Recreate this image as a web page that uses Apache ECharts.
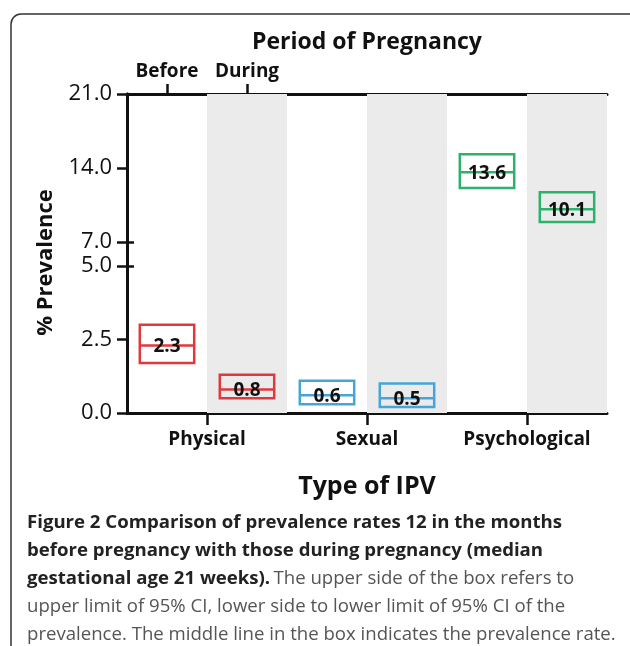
<!DOCTYPE html>
<html>
<head>
<meta charset="utf-8">
<script src="https://cdn.jsdelivr.net/npm/echarts@6/dist/echarts.min.js"></script>
<style>
html,body{margin:0;padding:0;background:#fff;}
#chart{width:630px;height:646px;}
</style>
</head>
<body>
<div id="chart"></div>
<script>
// ---- data ----
const categories = ['Physical', 'Sexual', 'Psychological'];
const periods = ['Before', 'During'];
const prevalence = [2.3, 0.8, 0.6, 0.5, 13.6, 10.1];
const ciLower = [1.7, 0.5, 0.3, 0.2, 12.1, 8.9];
const ciUpper = [3.0, 1.3, 1.1, 1.0, 15.3, 11.7];
const upperTicks = [7, 14, 21];
const lowerTicks = [0, 2.5, 5];

const categoryColors = ['#e0383c', '#45a5d8', '#2bb36c'];
const FONT = '"Open Sans", "Noto Sans", sans-serif';
const BOX_W = 0.68;

const upperData = [], lowerData = [];
prevalence.forEach((v, i) => {
  const row = [i + 0.5, ciLower[i], v, ciUpper[i], Math.floor(i / 2)];
  if (v > 5) upperData.push(row); else lowerData.push(row);
});
const bands = categories.map((c, k) => [{ xAxis: 2 * k + 1 }, { xAxis: 2 * k + 2 }]);

function renderBox(params, api) {
  const x = api.value(0), lo = api.value(1), mid = api.value(2), hi = api.value(3);
  const color = categoryColors[api.value(4)];
  const pLo = api.coord([x, lo]), pHi = api.coord([x, hi]), pMid = api.coord([x, mid]);
  const w = api.size([BOX_W, 0])[0];
  const x0 = pMid[0] - w / 2;
  return {
    type: 'group',
    children: [
      { type: 'rect', shape: { x: x0, y: pHi[1], width: w, height: pLo[1] - pHi[1] },
        style: { fill: 'none', stroke: color, lineWidth: 2.5 } },
      { type: 'line', shape: { x1: x0, y1: pMid[1], x2: x0 + w, y2: pMid[1] },
        style: { stroke: color, lineWidth: 2.5 } },
      { type: 'text', style: { text: mid.toFixed(1), x: pMid[0], y: pMid[1] + 1, align: 'center',
        verticalAlign: 'middle', font: 'bold 19px ' + FONT, fill: '#111' } }
    ]
  };
}

const axisLineStyle = { color: '#111', width: 3 };
const tickStyle = { color: '#111', width: 2.5 };

const chart = echarts.init(document.getElementById('chart'));
chart.setOption({
  animation: false,
  grid: [
    { left: 127, right: 23, top: 94, bottom: 233 },
    { left: 127, right: 23, top: 94, height: 148 },
    { left: 127, right: 23, top: 266, height: 147 }
  ],
  xAxis: [
    { gridIndex: 0, type: 'value', min: 0, max: 6, show: false },
    { gridIndex: 1, type: 'value', min: 0, max: 6, position: 'top',
      axisLine: { show: true, lineStyle: axisLineStyle },
      axisTick: { show: true, customValues: [0.5, 1.5], length: 10, lineStyle: tickStyle },
      axisLabel: { customValues: [0.5, 1.5], margin: 13, formatter: v => periods[Math.floor(v)],
        fontFamily: FONT, fontWeight: 'bold', fontSize: 19, color: '#111' },
      splitLine: { show: false },
      name: 'Period of Pregnancy', nameLocation: 'middle', nameGap: 40,
      nameTextStyle: { fontFamily: FONT, fontWeight: 'bold', fontSize: 23, color: '#111' } },
    { gridIndex: 2, type: 'value', min: 0, max: 6, position: 'bottom',
      axisLine: { show: true, lineStyle: axisLineStyle },
      axisTick: { show: true, customValues: [1, 3, 5], length: 12, lineStyle: tickStyle },
      axisLabel: { customValues: [1, 3, 5], margin: 17, formatter: v => categories[(v - 1) / 2],
        fontFamily: FONT, fontWeight: 'bold', fontSize: 19, color: '#111' },
      splitLine: { show: false },
      name: 'Type of IPV', nameLocation: 'middle', nameGap: 61,
      nameTextStyle: { fontFamily: FONT, fontWeight: 'bold', fontSize: 25, color: '#111' } }
  ],
  yAxis: [
    { gridIndex: 0, type: 'value', min: 0, max: 1, position: 'right',
      axisLine: { show: true, lineStyle: axisLineStyle },
      axisTick: { show: false }, axisLabel: { show: false }, splitLine: { show: false } },
    { gridIndex: 0, type: 'value', min: 0, max: 1, position: 'left',
      axisLine: { show: false }, axisTick: { show: false }, axisLabel: { show: false },
      splitLine: { show: false },
      name: '% Prevalence', nameLocation: 'middle', nameGap: 70, nameRotate: 90,
      nameTextStyle: { fontFamily: FONT, fontWeight: 'bold', fontSize: 22, color: '#111', padding: [0, 18, 0, 0] } },
    { gridIndex: 1, type: 'value', min: 7, max: 21, interval: 7, position: 'left',
      axisLine: { show: true, lineStyle: axisLineStyle },
      axisTick: { show: true, customValues: upperTicks, length: 10, lineStyle: tickStyle },
      axisLabel: { customValues: upperTicks, margin: 15, formatter: v => v.toFixed(1),
        fontFamily: FONT, fontSize: 22, color: '#111' },
      splitLine: { show: false } },
    { gridIndex: 1, type: 'value', min: 7, max: 21, interval: 7, position: 'left',
      axisLine: { show: false },
      axisTick: { show: true, inside: true, customValues: [7], length: 7, lineStyle: tickStyle },
      axisLabel: { show: false }, splitLine: { show: false } },
    { gridIndex: 2, type: 'value', min: 0, max: 5, interval: 2.5, position: 'left',
      axisLine: { show: true, lineStyle: axisLineStyle },
      axisTick: { show: true, customValues: lowerTicks, length: 10, lineStyle: tickStyle },
      axisLabel: { customValues: lowerTicks, margin: 15, formatter: v => v.toFixed(1),
        fontFamily: FONT, fontSize: 22, color: '#111' },
      splitLine: { show: false } },
    { gridIndex: 2, type: 'value', min: 0, max: 5, interval: 2.5, position: 'left',
      axisLine: { show: false },
      axisTick: { show: true, inside: true, customValues: [5], length: 7, lineStyle: tickStyle },
      axisLabel: { show: false }, splitLine: { show: false } }
  ],
  series: [
    { type: 'line', xAxisIndex: 0, yAxisIndex: 0, data: [], silent: true, z: 0,
      markArea: { silent: true, itemStyle: { color: '#ebebeb' }, data: bands } },
    { type: 'custom', xAxisIndex: 1, yAxisIndex: 2, renderItem: renderBox, data: upperData, z: 5 },
    { type: 'custom', xAxisIndex: 2, yAxisIndex: 4, renderItem: renderBox, data: lowerData, z: 5 }
  ],
  graphic: [
    { type: 'rect', shape: { x: 11, y: 14, width: 640, height: 680, r: 10 },
      style: { fill: 'none', stroke: '#333', lineWidth: 1.5 }, z: 100 },
    { type: 'text', left: 27, top: 513, z: 100,
      style: {
        text: [
          '{b|Figure 2 Comparison of prevalence rates 12 in the months}',
          '{b|before pregnancy with those during pregnancy (median}',
          '{b|gestational age 21 weeks).} {r|The upper side of the box refers to}',
          '{r|upper limit of 95% CI, lower side to lower limit of 95% CI of the}',
          '{r|prevalence. The middle line in the box indicates the prevalence rate.}'
        ].join('\n'),
        rich: {
          b: { fontFamily: FONT, fontWeight: 'bold', fontSize: 18.6, lineHeight: 28, fill: '#222' },
          r: { fontFamily: FONT, fontSize: 18.6, lineHeight: 28, fill: '#555' }
        }
      } }
  ]
});
</script>
</body>
</html>
